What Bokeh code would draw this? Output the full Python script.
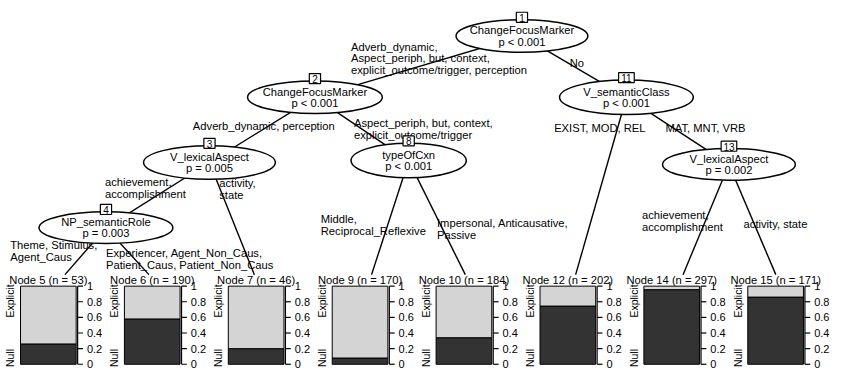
import math
from bokeh.plotting import figure
from bokeh.models import Range1d
from bokeh.core.properties import value
from bokeh.embed import file_html
from bokeh.resources import INLINE

# ---------------- data ----------------
inner_ids = [1, 2, 3, 4, 8, 11, 13]
inner_vars = ["ChangeFocusMarker", "ChangeFocusMarker", "V_lexicalAspect",
              "NP_semanticRole", "typeOfCxn", "V_semanticClass", "V_lexicalAspect"]
inner_pvals = ["p < 0.001", "p < 0.001", "p = 0.005", "p = 0.003",
               "p < 0.001", "p < 0.001", "p = 0.002"]

leaf_ids = [5, 6, 7, 9, 10, 12, 14, 15]
leaf_n = [53, 190, 46, 170, 184, 202, 297, 171]
leaf_null = [0.26, 0.58, 0.20, 0.08, 0.34, 0.745, 0.955, 0.86]   # share of "Null"
response_levels = ["Null", "Explicit"]

prop_ticks = [0, 0.2, 0.4, 0.6, 0.8, 1]
prop_tick_labels = ["0", "0.2", "0.4", "0.6", "0.8", "1"]

edge_parent = [1, 1, 2, 2, 3, 3, 4, 4, 8, 8, 11, 11, 13, 13]
edge_child = [2, 11, 3, 8, 4, 7, 5, 6, 9, 10, 12, 13, 14, 15]
edge_labels = [
    "Adverb_dynamic,\nAspect_periph, but, context,\nexplicit_outcome/trigger, perception",
    "No",
    "Adverb_dynamic, perception",
    "Aspect_periph, but, context,\nexplicit_outcome/trigger",
    "achievement,\naccomplishment",
    "activity,\nstate",
    "Theme, Stimulus,\nAgent_Caus",
    "Experiencer, Agent_Non_Caus,\nPatient_Caus, Patient_Non_Caus",
    "Middle,\nReciprocal_Reflexive",
    "Impersonal, Anticausative,\nPassive",
    "EXIST, MOD, REL",
    "MAT, MNT, VRB",
    "achievement,\naccomplishment",
    "activity, state",
]

# ---------------- layout (image pixel space) ----------------
X0_IMG, X1_IMG, H_IMG = 6, 856, 386
node_pos = {1: (540, 37), 2: (328, 101), 3: (220, 169), 4: (114, 237),
            8: (424, 167), 11: (647, 101), 13: (752, 171)}
node_size = {1: (135, 34), 2: (138, 34), 3: (135, 35), 4: (137, 33),
             8: (118, 36), 11: (137, 36), 13: (136, 33)}
leaf_cx = {lid: 55 + i * 106.4 for i, lid in enumerate(leaf_ids)}
leaf_attach = {5: 72, 6: 158, 7: 266, 9: 386, 10: 482, 12: 595, 14: 705, 15: 800}
ATTACH_Y = 286
label_xy = [(365, 48), (589, 65), (203, 131), (368, 128), (113, 189), (230, 190),
            (16, 255), (114, 263), (334, 228), (453, 232), (573, 133), (687, 133),
            (663, 224), (767, 233)]
LINE_STEP = 12.5
BAR_W = 57
BAR_TOP, BAR_BOT = 298.0, 379.5
BAR_H = BAR_BOT - BAR_TOP

FONT = value("Liberation Sans")
FS = "11.2px"

p = figure(width=830, height=370, output_backend="svg", toolbar_location=None,
           x_range=Range1d(X0_IMG, X1_IMG), y_range=Range1d(H_IMG, 0),
           x_axis_type=None, y_axis_type=None, min_border=0,
           background_fill_color="white", border_fill_color="white")
p.outline_line_color = None
p.grid.visible = False
# proportion scale for the leaf bar panels
p.extra_y_ranges = {"prop": Range1d((BAR_BOT - H_IMG) / BAR_H, BAR_BOT / BAR_H)}

# ---- edges ----
x0s, y0s, x1s, y1s = [], [], [], []
for par, ch in zip(edge_parent, edge_child):
    px, py = node_pos[par]
    if ch in node_pos:
        cx, cy = node_pos[ch]
    else:
        cx, cy = leaf_attach[ch], ATTACH_Y
    x0s.append(px); y0s.append(py); x1s.append(cx); y1s.append(cy)
p.segment(x0s, y0s, x1s, y1s, line_color="black", line_width=1.4)

# ---- edge labels ----
tx, ty, tt = [], [], []
for lab, (lx, ly) in zip(edge_labels, label_xy):
    for k, line in enumerate(lab.split("\n")):
        tx.append(lx); ty.append(ly + k * LINE_STEP); tt.append(line)
p.text(tx, ty, text=tt, text_font=FONT, text_font_size=FS, text_align="left",
       text_baseline="middle", text_color="black")

# ---- inner nodes ----
ex = [node_pos[i][0] for i in inner_ids]
ey = [node_pos[i][1] for i in inner_ids]
ew = [node_size[i][0] for i in inner_ids]
eh = [node_size[i][1] for i in inner_ids]
p.ellipse(ex, ey, width=ew, height=eh, fill_color="white", line_color="black",
          line_width=1.5)
p.text(ex, [y - 6 for y in ey], text=inner_vars, text_font=FONT, text_font_size=FS,
       text_align="center", text_baseline="middle")
p.text(ex, [y + 6 for y in ey], text=inner_pvals, text_font=FONT, text_font_size=FS,
       text_align="center", text_baseline="middle")
bx = ex
by = [y - h / 2 - 2.5 for y, h in zip(ey, eh)]
bw = [11.5 if i < 10 else 16 for i in inner_ids]
p.rect(bx, by, width=bw, height=10.5, fill_color="white", line_color="black",
       line_width=1.2)
p.text(bx, [y + 0.5 for y in by], text=[str(i) for i in inner_ids], text_font=FONT,
       text_font_size="10px", text_align="center", text_baseline="middle")

# ---- leaf panels ----
lefts = [leaf_cx[l] - BAR_W / 2 for l in leaf_ids]
rights = [leaf_cx[l] + BAR_W / 2 for l in leaf_ids]
p.quad(left=lefts, right=rights, bottom=[0] * len(leaf_ids), top=leaf_null,
       fill_color="#333333", line_color="black", line_width=1, y_range_name="prop")
p.quad(left=lefts, right=rights, bottom=leaf_null, top=[1] * len(leaf_ids),
       fill_color="#d4d4d4", line_color="black", line_width=1, y_range_name="prop")

# right-hand proportion axes
ax_x0, ax_y0, ax_x1, ax_y1 = [], [], [], []
tl_x, tl_y, tl_t = [], [], []
for r in rights:
    ax_x0.append(r + 1.5); ax_y0.append(0); ax_x1.append(r + 1.5); ax_y1.append(1)
    for tv, tlab in zip(prop_ticks, prop_tick_labels):
        ax_x0.append(r + 1.5); ax_y0.append(tv); ax_x1.append(r + 7); ax_y1.append(tv)
        tl_x.append(r + 11); tl_y.append(tv); tl_t.append(tlab)
p.segment(ax_x0, ax_y0, ax_x1, ax_y1, line_color="black", line_width=1.2,
          y_range_name="prop")
p.text(tl_x, tl_y, text=tl_t, text_font=FONT, text_font_size="11px",
       text_align="left", text_baseline="middle", y_range_name="prop")

# level labels (rotated) on the left of each bar
lvl_x = [l - 10.5 for l in lefts]
p.text(lvl_x, [0.08] * len(leaf_ids), text=[response_levels[0]] * len(leaf_ids),
       angle=math.pi / 2, text_font=FONT, text_font_size="10.5px",
       text_align="center", text_baseline="middle", y_range_name="prop")
p.text(lvl_x, [0.81] * len(leaf_ids), text=[response_levels[1]] * len(leaf_ids),
       angle=math.pi / 2, text_font=FONT, text_font_size="10.5px",
       text_align="center", text_baseline="middle", y_range_name="prop")

# leaf titles
p.text([leaf_cx[l] for l in leaf_ids], [292] * len(leaf_ids),
       text=[f"Node {l} (n = {n})" for l, n in zip(leaf_ids, leaf_n)],
       text_font=FONT, text_font_size=FS, text_align="center", text_baseline="middle")

open("out.html", "w").write(file_html(p, INLINE))
